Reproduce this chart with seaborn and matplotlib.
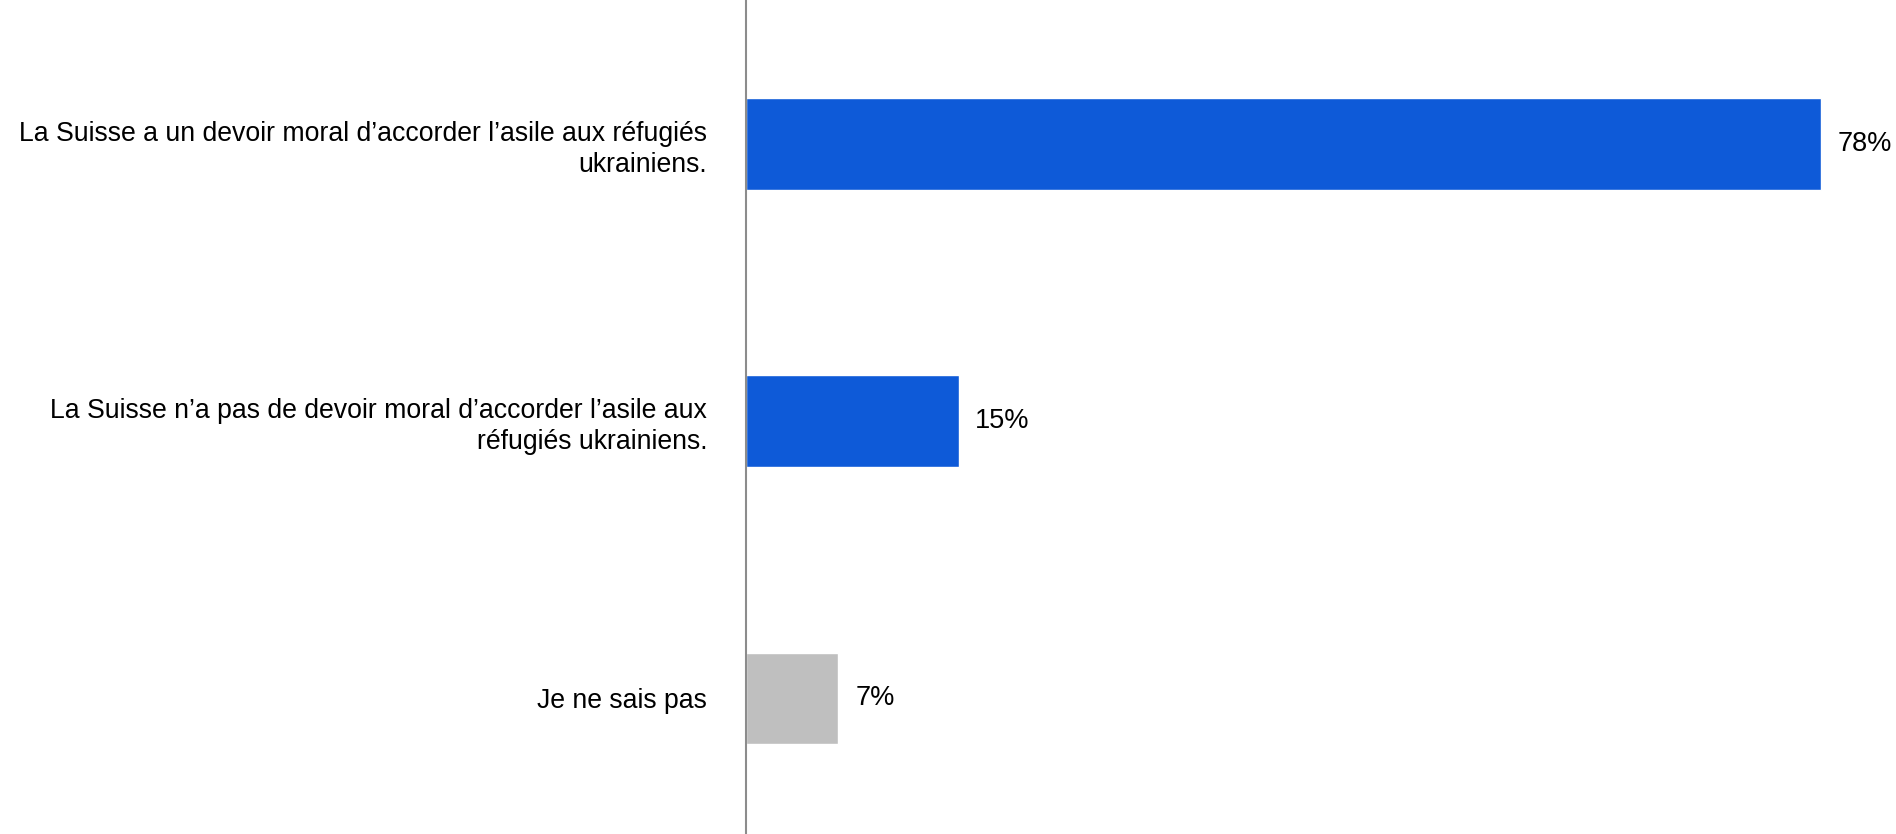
import matplotlib.pyplot as plt
import pandas as pd
import seaborn as sns

categories = [
    "La Suisse a un devoir moral d\u2019accorder l\u2019asile aux réfugiés\nukrainiens.",
    "La Suisse n\u2019a pas de devoir moral d\u2019accorder l\u2019asile aux\nréfugiés ukrainiens.",
    "Je ne sais pas",
]
values = [77.9, 15.4, 6.7]
labels = ["78%", "15%", "7%"]
colors = ["#0E5AD8", "#0E5AD8", "#BFBFBF"]

df = pd.DataFrame({"answer": categories, "share": values})

sns.set_theme(style="white")
plt.rcParams["font.family"] = ["Liberation Sans", "DejaVu Sans"]

fig = plt.figure(figsize=(18.96, 8.34), dpi=100)
ax = fig.add_axes([746 / 1896, 0, 1 - 746 / 1896 - 0.0095, 1])

sns.barplot(data=df, y="answer", x="share", hue="answer", palette=colors,
            legend=False, width=0.33, ax=ax, saturation=1)

for cont, lab in zip(ax.containers, labels):
    ax.bar_label(cont, labels=[lab], padding=12, fontsize=19.5, color="black")

ax.set_xlim(0, 82)
ax.set_ylim(2.49, -0.52)
ax.set_xlabel("")
ax.set_ylabel("")
ax.set_xticks([])
ax.tick_params(axis="y", length=0, pad=28, labelsize=19.2, labelcolor="black")
for lbl in ax.get_yticklabels():
    lbl.set_linespacing(1.25)

sns.despine(ax=ax, top=True, right=True, bottom=True, left=False)
ax.spines["left"].set_color("#8C8C8C")
ax.spines["left"].set_linewidth(1.5)

fig.savefig("out.png", dpi=100)
